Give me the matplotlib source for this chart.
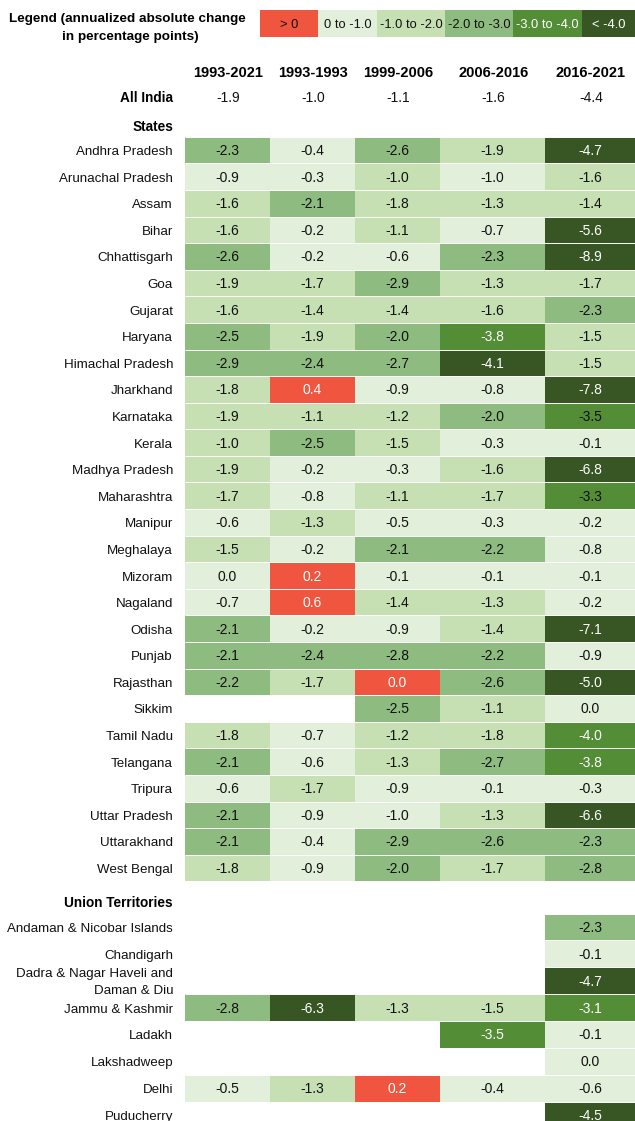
import numpy as np
import matplotlib
matplotlib.use('Agg')
import matplotlib.pyplot as plt
from matplotlib.colors import ListedColormap, BoundaryNorm

# ---------------- data ----------------
periods = ['1993-2021', '1993-1993', '1999-2006', '2006-2016', '2016-2021']
all_india = [-1.9, -1.0, -1.1, -1.6, -4.4]

states = ['Andhra Pradesh', 'Arunachal Pradesh', 'Assam', 'Bihar', 'Chhattisgarh',
          'Goa', 'Gujarat', 'Haryana', 'Himachal Pradesh', 'Jharkhand', 'Karnataka',
          'Kerala', 'Madhya Pradesh', 'Maharashtra', 'Manipur', 'Meghalaya', 'Mizoram',
          'Nagaland', 'Odisha', 'Punjab', 'Rajasthan', 'Sikkim', 'Tamil Nadu',
          'Telangana', 'Tripura', 'Uttar Pradesh', 'Uttarakhand', 'West Bengal']
nan = np.nan
state_vals = [
    [-2.3, -0.4, -2.6, -1.9, -4.7],
    [-0.9, -0.3, -1.0, -1.0, -1.6],
    [-1.6, -2.1, -1.8, -1.3, -1.4],
    [-1.6, -0.2, -1.1, -0.7, -5.6],
    [-2.6, -0.2, -0.6, -2.3, -8.9],
    [-1.9, -1.7, -2.9, -1.3, -1.7],
    [-1.6, -1.4, -1.4, -1.6, -2.3],
    [-2.5, -1.9, -2.0, -3.8, -1.5],
    [-2.9, -2.4, -2.7, -4.1, -1.5],
    [-1.8, 0.4, -0.9, -0.8, -7.8],
    [-1.9, -1.1, -1.2, -2.0, -3.5],
    [-1.0, -2.5, -1.5, -0.3, -0.1],
    [-1.9, -0.2, -0.3, -1.6, -6.8],
    [-1.7, -0.8, -1.1, -1.7, -3.3],
    [-0.6, -1.3, -0.5, -0.3, -0.2],
    [-1.5, -0.2, -2.1, -2.2, -0.8],
    [0.0, 0.2, -0.1, -0.1, -0.1],
    [-0.7, 0.6, -1.4, -1.3, -0.2],
    [-2.1, -0.2, -0.9, -1.4, -7.1],
    [-2.1, -2.4, -2.8, -2.2, -0.9],
    [-2.2, -1.7, 0.0, -2.6, -5.0],
    [nan, nan, -2.5, -1.1, 0.0],
    [-1.8, -0.7, -1.2, -1.8, -4.0],
    [-2.1, -0.6, -1.3, -2.7, -3.8],
    [-0.6, -1.7, -0.9, -0.1, -0.3],
    [-2.1, -0.9, -1.0, -1.3, -6.6],
    [-2.1, -0.4, -2.9, -2.6, -2.3],
    [-1.8, -0.9, -2.0, -1.7, -2.8],
]

uts = ['Andaman & Nicobar Islands', 'Chandigarh', 'Dadra & Nagar Haveli and\nDaman & Diu',
       'Jammu & Kashmir', 'Ladakh', 'Lakshadweep', 'Delhi', 'Puducherry']
ut_vals = [
    [nan, nan, nan, nan, -2.3],
    [nan, nan, nan, nan, -0.1],
    [nan, nan, nan, nan, -4.7],
    [-2.8, -6.3, -1.3, -1.5, -3.1],
    [nan, nan, nan, -3.5, -0.1],
    [nan, nan, nan, nan, 0.0],
    [-0.5, -1.3, 0.2, -0.4, -0.6],
    [nan, nan, nan, nan, -4.5],
]

legend_labels = ['> 0', '0 to -1.0', '-1.0 to -2.0', '-2.0 to -3.0', '-3.0 to -4.0', '< -4.0']
bin_colors = ['#EF553F', '#E2EFDA', '#C6E0B4', '#8EBB80', '#538D36', '#375623']

# colour class seen in the picture where the rounded value sits on a bin boundary
bin_overrides = {('Arunachal Pradesh', 3): 1, ('Uttar Pradesh', 2): 1,
                 ('Rajasthan', 2): 0, ('Tamil Nadu', 4): 4}
dark_text_cells = {('Karnataka', 4), ('Maharashtra', 4)}

# ---------------- helpers ----------------
FONT = ['Liberation Sans', 'DejaVu Sans']
NARROW = ['Liberation Sans Narrow', 'Liberation Sans', 'DejaVu Sans']


def to_bins(names, vals):
    v = np.array(vals, dtype=float)
    b = np.select([v > 0, v > -1, v > -2, v > -3, v > -4], [0, 1, 2, 3, 4], 5).astype(float)
    for i, n in enumerate(names):
        for j in range(v.shape[1]):
            if (n, j) in bin_overrides:
                b[i, j] = bin_overrides[(n, j)]
    return np.ma.masked_where(np.isnan(v), b)


cmap = ListedColormap(bin_colors)
norm = BoundaryNorm(np.arange(-0.5, 6.5, 1), cmap.N)

fig = plt.figure(figsize=(6.35, 11.21), dpi=100)
ax = fig.add_axes([0, 0, 1, 1])
ax.set_xlim(0, 635)
ax.set_ylim(1121, 0)
ax.axis('off')

col_edges = np.array([184.5, 269.5, 355.0, 439.5, 545.0, 635.0])
col_centers = (col_edges[:-1] + col_edges[1:]) / 2
label_x = 173
CAP = 5.0  # half cap height in px for baseline placement


def put(x, y, s, **kw):
    ax.text(x, y + CAP, s, va='baseline', **kw)


def draw_block(names, vals, top, row_h):
    bins = to_bins(names, vals)
    y_edges = top + row_h * np.arange(len(names) + 1)
    ax.pcolormesh(col_edges, y_edges, bins, cmap=cmap, norm=norm,
                  edgecolors='none', antialiased=False)
    ax.hlines(y_edges, col_edges[0], col_edges[-1], color='white', lw=0.7)
    centers = (y_edges[:-1] + y_edges[1:]) / 2
    for i, n in enumerate(names):
        lines = n.split('\n')
        k = len(lines)
        for li, line in enumerate(lines):
            put(label_x, centers[i] + (li - (k - 1) / 2) * 17, line,
                ha='right', fontsize=9.6, family=FONT, color='#111111')
        for j in range(len(periods)):
            v = vals[i][j]
            if np.isnan(v):
                continue
            b = int(bins[i, j])
            white = b in (0, 4, 5) and (n, j) not in dark_text_cells
            put(col_centers[j], centers[i], f"{v:.1f}", ha='center', fontsize=10,
                family=FONT, color='white' if white else '#111111')


# legend
leg_edges = np.array([260, 318, 377, 445, 513, 582, 635])
ax.pcolormesh(leg_edges, [10, 37], np.arange(6).reshape(1, 6), cmap=cmap, norm=norm,
              edgecolors='none', antialiased=False)
for k, lab in enumerate(legend_labels):
    put((leg_edges[k] + leg_edges[k + 1]) / 2, 23.5, lab, ha='center', fontsize=9.3,
        family=FONT, color='white' if k in (4, 5) else '#111111')
put(127, 17, 'Legend (annualized absolute change', ha='center', fontsize=9.7,
    family=FONT, weight='bold')
put(130, 35, 'in percentage points)', ha='center', fontsize=9.7,
    family=FONT, weight='bold')

# headers
for j, p in enumerate(periods):
    put(col_centers[j] + 1, 72, p, ha='center', fontsize=10.5, family=NARROW, weight='bold')

put(label_x, 97, 'All India', ha='right', fontsize=9.8, family=FONT, weight='bold')
for j, v in enumerate(all_india):
    put(col_centers[j] + 1, 97, f"{v:.1f}", ha='center', fontsize=10, family=FONT,
        color='#111111')

put(label_x, 126, 'States', ha='right', fontsize=9.8, family=FONT, weight='bold')
draw_block(states, state_vals, 136.8, 26.59)

put(label_x, 902, 'Union Territories', ha='right', fontsize=9.8, family=FONT, weight='bold')
draw_block(uts, ut_vals, 913.6, 26.86)

fig.savefig('out.png', dpi=100, facecolor='white')
